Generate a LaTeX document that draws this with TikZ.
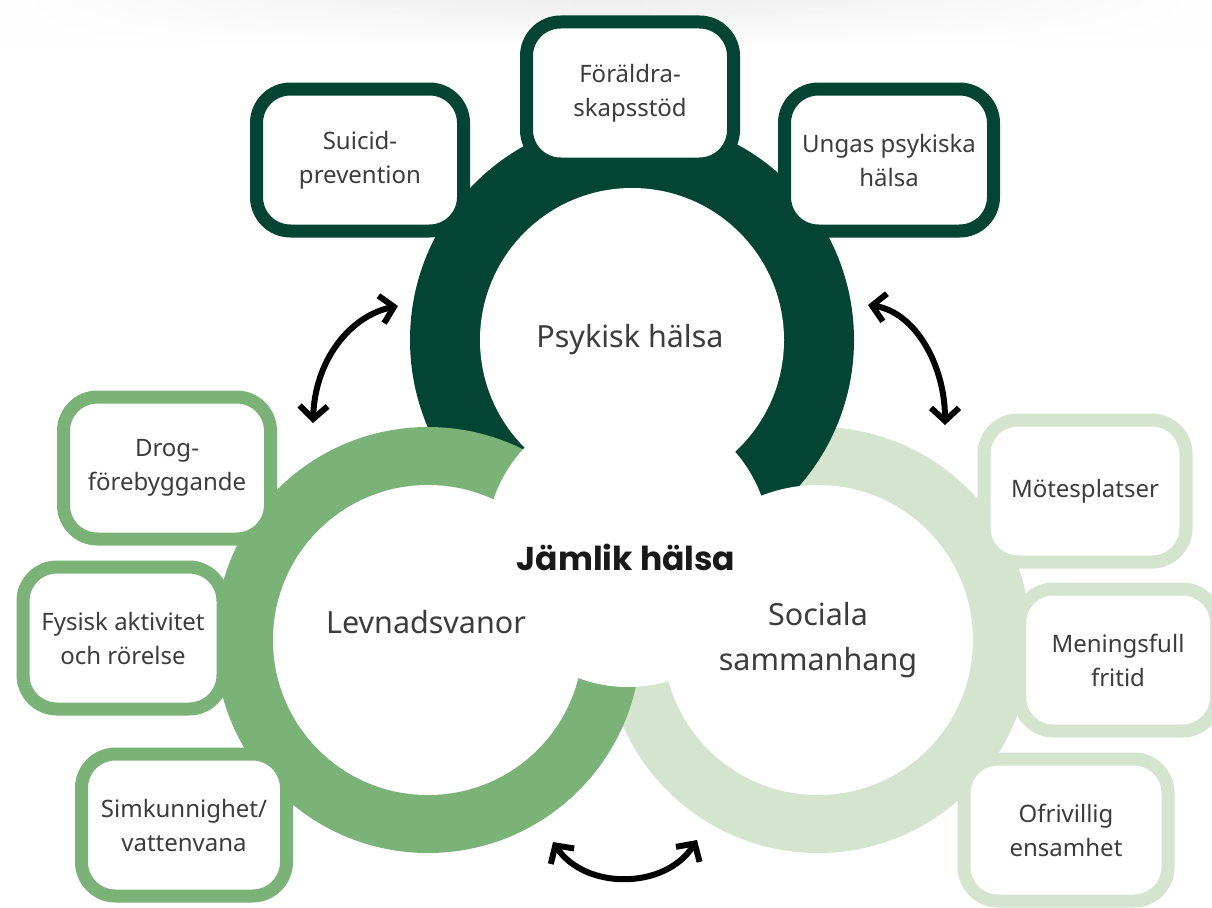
\documentclass[tikz,border=0pt]{standalone}
\usepackage{fontspec}
\setmainfont{Noto Sans}
\newfontfamily\jfont{Poppins}
\usetikzlibrary{arrows.meta,fadings}
\definecolor{dkg}{RGB}{4,68,50}
\definecolor{mdg}{RGB}{122,178,120}
\definecolor{ltg}{RGB}{212,228,207}
\definecolor{txt}{RGB}{60,60,60}
\tikzfading[name=edgefade, left color=transparent!100, right color=transparent!100, middle color=transparent!0]
\begin{document}
\begin{tikzpicture}[x=1pt,y=-1pt,
  topic/.style={draw=#1, line width=13pt, fill=white, rounded corners=34pt,
    minimum width=207pt, minimum height=142pt, align=center, inner sep=0pt,
    font=\fontsize{24}{34}\selectfont, text=txt},
  ringlbl/.style={font=\fontsize{30.5}{45}\selectfont, text=txt, align=center},
  arr/.style={{Straight Barb[length=13pt,width=28pt,line width=6pt]}-{Straight Barb[length=13pt,width=28pt,line width=6pt]},
    line width=6pt, line cap=round}
]
\useasboundingbox (0,0) rectangle (1212,907);
\fill[white] (0,0) rectangle (1212,907);
\shade[top color=black!7, bottom color=white, path fading=edgefade] (0,0) rectangle (1212,50);

% rings
\fill[ltg] (818,640) circle[radius=213pt];
\fill[dkg] (632,340) circle[radius=222pt];
\fill[mdg] (428,640) circle[radius=213pt];
\fill[white] (632,340) circle[radius=152pt] (428,640) circle[radius=155pt]
  (818,640) circle[radius=155pt] (628,545) circle[radius=142pt];

% ring labels
\node[ringlbl] (psy) at (630,340) {Psykisk hälsa};
\node[ringlbl] (lev) at (426,622) {Levnadsvanor};
\node[ringlbl] (soc) at (818,640) {Sociala\\sammanhang};
\node[font=\jfont\bfseries\fontsize{33}{33}\selectfont, text=black!90] (jam) at (626,557) {Jämlik hälsa};

% arrows
\coordinate (a1a) at (398,306);
\coordinate (a1b) at (313,423);
\coordinate (a2a) at (868,305);
\coordinate (a2b) at (945,425);
\coordinate (a3a) at (553,842);
\coordinate (a3b) at (697,840);
\draw[arr] (a1a) .. controls (350,316) and (315,360) .. (a1b);
\draw[arr] (a2a) .. controls (915,312) and (945,365) .. (a2b);
\draw[arr] (a3a) .. controls (585,890) and (665,890) .. (a3b);

% topic boxes
\node[topic=dkg] (sui) at (360,160) {Suicid-\\prevention};
\node[topic=dkg] (for) at (630,93) {Föräldra-\\skapsstöd};
\node[topic=dkg, minimum width=209pt] (ung) at (889,160) {Ungas psykiska\\hälsa};
\node[topic=mdg] (dro) at (167,468) {Drog-\\förebyggande};
\node[topic=mdg, minimum width=200pt] (fys) at (123,638) {Fysisk aktivitet\\och rörelse};
\node[topic=mdg, minimum width=205pt] (sim) at (184,825) {Simkunnighet/\\vattenvana};
\node[topic=ltg, minimum width=202pt] (mot) at (1085,491) {Mötesplatser};
\node[topic=ltg, minimum width=197pt] (men) at (1118,660) {Meningsfull\\fritid};
\node[topic=ltg, minimum width=204pt] (ofr) at (1066,830) {Ofrivillig\\ensamhet};
\end{tikzpicture}
\end{document}
